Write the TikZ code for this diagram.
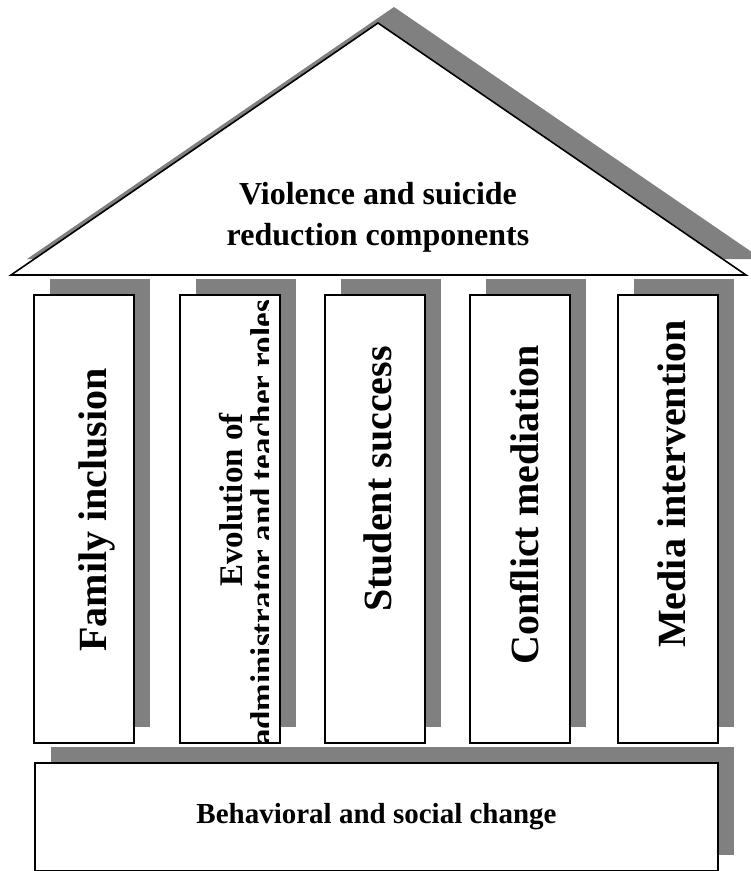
\documentclass[tikz,border=0pt]{standalone}
\usepackage{fontspec}
\setmainfont{Liberation Serif}
\usepackage{tikz}
\usetikzlibrary{positioning,shadows}

\begin{document}
\begin{tikzpicture}[
  x=1pt, y=-1pt,
  shade/.style={drop shadow={shadow xshift=16pt, shadow yshift=16pt, fill=gray, opacity=1}},
  pillar/.style={draw, line width=1.6pt, fill=white, shade, minimum width=100pt,
    minimum height=448pt, inner sep=0pt},
  label/.style={font=\fontsize{40}{44}\selectfont\bfseries, rotate=90, inner sep=0pt},
  small/.style={label, font=\fontsize{33}{36}\selectfont\bfseries},
  roofbox/.style={font=\fontsize{32}{41}\selectfont\bfseries, align=center, inner sep=0pt},
]
\useasboundingbox (0,0) rectangle (751,871);

% roof
\draw[line width=1.6pt, fill=white, shade] (11,275) -- (378,23) -- (746,275) -- cycle;
\node[roofbox] (roof) at (378,217) {Violence and suicide\\reduction components};

% pillars
\node[pillar] (p1) at (84,519) {};
\node[pillar] (p2) at (230,519) {};
\node[pillar] (p3) at (375,519) {};
\node[pillar] (p4) at (520,519) {};
\node[pillar] (p5) at (668,519) {};

\node[label] (l1) at (97,510) {Family inclusion};
\begin{scope}
  \clip (182,297) rectangle (268,741);
  \node[small] (l2a) at (231,500) {Evolution of};
  \node[small] (l2b) at (262,523) {administrator and teacher roles};
\end{scope}
\node[label] (l3) at (378,479) {Student success};
\node[label] (l4) at (525,505) {Conflict mediation};
\node[label] (l5) at (672,484) {Media intervention};

% base
\node[pillar, minimum width=683pt, minimum height=108pt] (base) at (376.5,817)
  {\fontsize{29}{33}\selectfont\bfseries Behavioral and social change};

\end{tikzpicture}
\end{document}
